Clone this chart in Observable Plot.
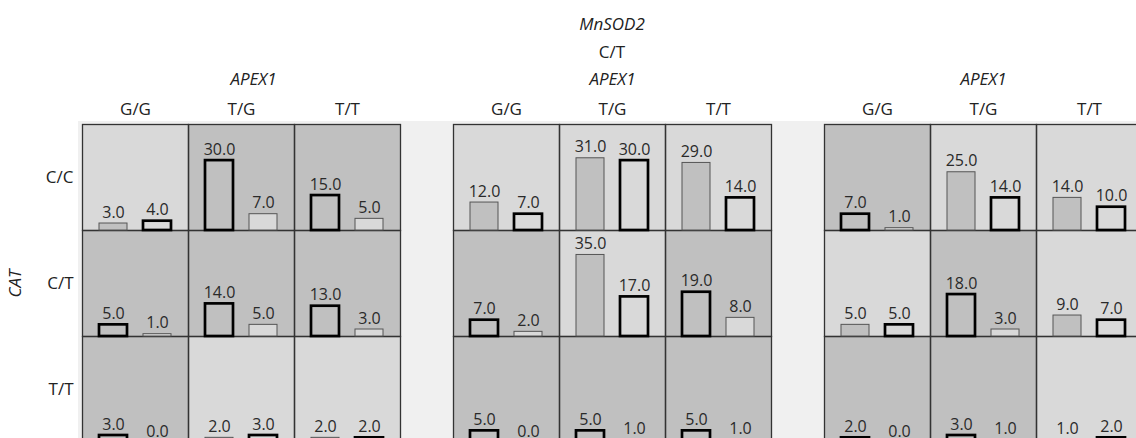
<!DOCTYPE html>
<html><head><meta charset="utf-8">
<script src="https://cdn.jsdelivr.net/npm/d3@7"></script>
<script src="https://cdn.jsdelivr.net/npm/@observablehq/plot@0.6"></script>
<style>
body{margin:0;background:#fff;font-family:"Open Sans",sans-serif;color:#222;}
#wrap{position:relative;width:1136px;height:438px;overflow:hidden;}
#panel{position:absolute;left:78px;top:121px;right:0;bottom:0;background:#f0f0f0;}
#row{position:absolute;left:0;top:0;display:flex;gap:53px;}
.col{flex:none;display:flex;flex-direction:column;}
.head{height:65px;box-sizing:border-box;padding-top:10px;text-align:center;font-size:17px;line-height:28px;color:#222;}
.head i{font-style:italic;}
svg{display:block;overflow:visible;}
</style></head>
<body>
<div id="wrap"><div id="panel"></div><div id="row"></div></div>
<script>
// Data
const apex1 = ["G/G", "T/G", "T/T"];
const cat = ["C/C", "C/T", "T/T"];
const geneCol = "APEX1";
const geneRow = "CAT";
const geneGroup = "MnSOD2";
const groupLabels = ["", "C/T", ""]; // only the middle MnSOD2 header is visible
// values per group, row-major (CAT row, APEX1 column)
const barA = [
  [3, 30, 15, 5, 14, 13, 3, 2, 2],
  [12, 31, 29, 7, 35, 19, 5, 5, 5],
  [7, 25, 14, 5, 18, 9, 2, 3, 1]
];
const barB = [
  [4, 7, 5, 1, 5, 3, 0, 3, 2],
  [7, 30, 14, 2, 17, 8, 0, 1, 1],
  [1, 14, 10, 5, 3, 7, 0, 1, 2]
];
// which bar the cell is shaded after ("a" darker, "b" lighter)
const dominant = [
  ["b", "a", "a", "a", "a", "a", "a", "b", "b"],
  ["b", "b", "b", "a", "b", "a", "a", "a", "a"],
  ["a", "b", "b", "b", "a", "b", "a", "a", "b"]
];

const row = document.getElementById("row");

function build(g) {
  const first = g === 0;
  const cells = [], bars = [];
  cat.forEach((c, ri) => apex1.forEach((a, ci) => {
    const k = ri * 3 + ci;
    const dom = dominant[g][k];
    cells.push({cat: c, apex: a, dom});
    bars.push({cat: c, apex: a, bar: "a", value: barA[g][k], thick: dom === "a"});
    bars.push({cat: c, apex: a, bar: "b", value: barB[g][k], thick: dom === "b"});
  }));
  const common = {fx: "apex", fy: "cat", x: "bar", y: "value", fill: "bar"};
  return Plot.plot({
    width: first ? 400 : 318,
    height: 378,
    marginTop: 58, marginBottom: 0, marginRight: 0, marginLeft: first ? 82 : 0,
    style: {background: "transparent", fontFamily: "Open Sans", fontSize: "17px", color: "#222", overflow: "visible"},
    fx: {domain: apex1, padding: 0, axis: "top", tickSize: 0, tickPadding: 10, label: geneCol, labelAnchor: "center", labelOffset: 52},
    fy: {domain: cat, padding: 0, axis: first ? "left" : null, tickSize: 0, tickPadding: 9, label: geneRow, labelAnchor: "center", labelOffset: 74},
    x: {domain: ["a", "b"], padding: 0.37, axis: null},
    y: {domain: [0, 45.5], axis: null},
    color: {domain: ["a", "b"], range: ["#c0c0c0", "#d9d9d9"]},
    marks: [
      Plot.rect(cells, {fx: "apex", fy: "cat", fill: "dom"}),
      Plot.frame({stroke: "#333", strokeWidth: 1.3}),
      Plot.barY(bars.filter(d => !d.thick), {...common, stroke: "#555", strokeWidth: 1}),
      Plot.barY(bars.filter(d => d.thick), {...common, stroke: "#000", strokeWidth: 2.7}),
      Plot.text(bars, {fx: "apex", fy: "cat", x: "bar", y: "value", text: d => d.value.toFixed(1), lineAnchor: "bottom", dy: -6, fontSize: 16, fill: "#2a2a2a"})
    ]
  });
}

[0, 1, 2].forEach(g => {
  const col = document.createElement("div");
  col.className = "col";
  const head = document.createElement("div");
  head.className = "head";
  if (groupLabels[g]) head.innerHTML = `<div><i>${geneGroup}</i></div><div>${groupLabels[g]}</div>`;
  col.appendChild(head);
  const chart = build(g);
  col.appendChild(chart);
  row.appendChild(col);
});
d3.selectAll("svg text").filter(function() { return this.textContent === geneCol || this.textContent === geneRow; }).style("font-style", "italic");
// in the reference the first APEX1 title sits a little right of its group centre
d3.select(d3.selectAll("svg").nodes()[0]).selectAll("text").filter(function() { return this.textContent === geneCol; }).attr("dx", 12);
</script>
</body></html>
